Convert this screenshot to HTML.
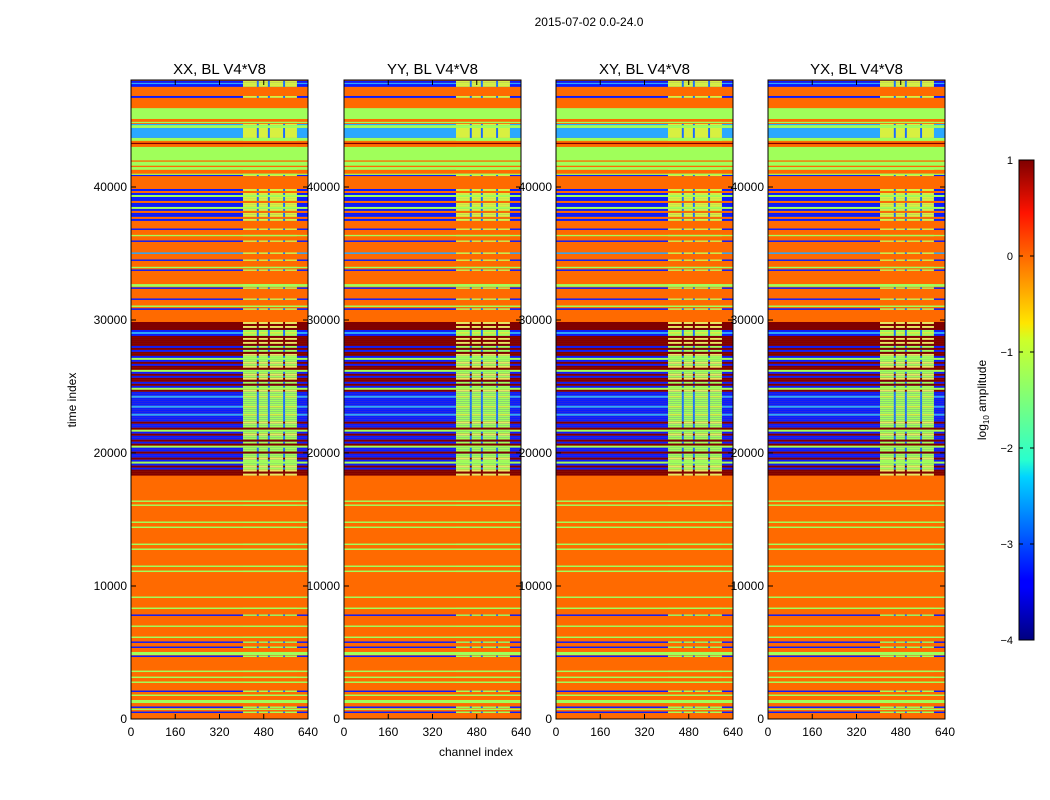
<!DOCTYPE html>
<html><head><meta charset="utf-8"><style>
body{margin:0;background:#fff;width:1050px;height:800px;overflow:hidden}
svg{display:block;font-family:"Liberation Sans",sans-serif}
</style></head><body>
<svg id="fig" width="1050" height="800" viewBox="0 0 1050 800">
<defs>
<linearGradient id="jet" x1="0" y1="1" x2="0" y2="0">
<stop offset="0" stop-color="#00007f"/><stop offset="0.11" stop-color="#0000ff"/><stop offset="0.125" stop-color="#0000ff"/>
<stop offset="0.34" stop-color="#00d4ff"/><stop offset="0.375" stop-color="#29ffce"/><stop offset="0.5" stop-color="#7dff7a"/>
<stop offset="0.625" stop-color="#ceff29"/><stop offset="0.66" stop-color="#ffe600"/><stop offset="0.8" stop-color="#ff6800"/>
<stop offset="0.89" stop-color="#ff1300"/><stop offset="1" stop-color="#7f0000"/>
</linearGradient>
</defs>
<text x="589" y="26" font-size="12" text-anchor="middle">2015-07-02 0.0-24.0</text>
<text transform="translate(76,400) rotate(-90)" font-size="12" text-anchor="middle">time index</text>
<text x="476" y="756" font-size="12" text-anchor="middle">channel index</text>
<g id="panels"></g>
<g>
<rect x="1019" y="160" width="15" height="480" fill="url(#jet)" stroke="#000" stroke-width="1"/>
</g>
<g id="cbticks"></g>
<text transform="translate(986,400) rotate(-90)" font-size="12" text-anchor="middle">log<tspan font-size="8" dy="3">10</tspan><tspan dy="-3"> amplitude</tspan></text>
</svg>
<script>
// ---- data ----
const panelTitles = ["XX, BL V4*V8","YY, BL V4*V8","XY, BL V4*V8","YX, BL V4*V8"];
const yTicks = [0,10000,20000,30000,40000];
const xTicks = [0,160,320,480,640];
const cbTicks = [1,0,-1,-2,-3,-4];
// bands: [timeStart, timeEnd, kind]
const bandStarts = [0,450,680,830,1200,1730,2030,2710,3080,3530,4660,4810,5340,5720,6090,6920,7750,8270,9100,11050,11430,12710,13080,14360,14740,16020,16320,
 30760,30980,31510,31900,32340,32500,33690,33900,34440,34970,35870,36300,36770,37450,37700,38000,38200,38500,38700,39250,40830,40910,41100,41300,41500,41700,41900,42100,43010,43320,43470,43690,44440,44670,44820,44970,45120,45950,46700,46850,47530,47750,47830];
const bandEnds = [18350,560,780,940,1430,1840,2140,2820,3190,3640,4770,5040,5450,5830,6200,7030,7860,8380,9210,11160,11540,12820,13190,14470,14850,16130,16430,
 30880,31090,31620,32000,32450,32700,33800,34000,34550,35080,35980,36400,36880,37550,37800,38100,38300,38600,38800,39350,40910,41000,41200,41400,41600,41800,42000,42300,43010,43320,43690,44440,44670,44740,44900,45040,45950,46020,46850,47530,47750,47830,47980];
const bandKinds = ["O","B","G","B","G","G","B","G","G","G","B","G","B","B","G","G","B","G","G","G","G","G","G","G","G","G","G",
 "B","G","B","O","B","G","B","G","B","C","B","G","B","O","G","O","G","O","G","O","B","G","O","G","O","G","O","G","G","D","G","C","G","C","G","O","G","O","B","O","B","C","B"];
const greenBlocks = [[41300,43010],[45120,45950]];
// noisy region rows from time 29850 downward, 150 units each
const noisyTop = 29850;
const noisyRows = "RRRRBCBRRRRRBRBRRBGBRBRRGBRBRRBRBGRBBCBBBBCBBBCBBBRBBRGBRBBRBRGBBRBBRBGBRBRRR";
const noisyUpper = "BOBGBBOBBGBOBBOB"; // rows from 39850 downward, 150 units each
const stripeChannels = [455,495,550];
// ---- rendering ----
const colors = {O:"#ff6a00",G:"#a0ff5a",B:"#0a1cff",C:"#2aa8ff",R:"#7f0000",D:"#7f0000",Y:"#ffe94a"};
const rightColors = {O:"#ff9a20",G:"#a0ff5a",B:"#a0ff5a",C:"#d8f040",R:"#7f0000",D:"#7f0000",Y:"#ffe94a"};
const panelX = [131,344,556,768], PW=177, PT=80, PB=719;
const tMax = 48050;
const NS="http://www.w3.org/2000/svg";
function ys(t){return PB - t/10000*133;}
function mk(tag,attrs,parent){const e=document.createElementNS(NS,tag);for(const k in attrs)e.setAttribute(k,attrs[k]);parent.appendChild(e);return e;}
const root=document.getElementById('panels');
let rowCount=0;
function drawRow(g,xs,t0,t1,kind){
  rowCount++;
  const y0=ys(t1), h=Math.max(ys(t0)-ys(t1),1.2);
  const r=mk('rect',{x:xs(0),y:y0,width:xs(640)-xs(0),height:h,fill:colors[kind]},g);
  
  
  let rc=rightColors[kind];
  if(kind==="B" && t1>30500) rc="#d8f040";
  if(kind==="R" && rowCount%2===0) rc="#e8e860";
  if(kind!=="O"&&kind!=="D"){
    const rr=mk('rect',{x:xs(405),y:y0,width:xs(600)-xs(405),height:h,fill:rc},g);
    
    
    if(kind==="B"||kind==="C"||kind==="R"){
      for(const c of stripeChannels){
        const s=mk('rect',{x:xs(c),y:y0,width:xs(c+7)-xs(c),height:h,fill:kind==="R"?"#7f0000":"#1a6bff"},g);
        
        
      }
    }
  }
}
panelTitles.forEach((title,p)=>{
  const x0=panelX[p];
  const xs=c=>x0+c/640*PW;
  const g=mk('g',{},root);
  
  
  const bg=mk('rect',{x:x0,y:ys(tMax),width:PW,height:ys(0)-ys(tMax),fill:colors.O},g);
  
  
  greenBlocks.forEach(b=>drawRow(g,xs,b[0],b[1],"G"));
  for(let i=1;i<bandStarts.length;i++){ drawRow(g,xs,bandStarts[i],bandEnds[i],bandKinds[i]); }
  for(let i=0;i<noisyRows.length;i++){ const t1=noisyTop-i*150; drawRow(g,xs,t1-150,t1,noisyRows[i]); }
  for(let i=0;i<noisyUpper.length;i++){ const t1=39850-i*150; drawRow(g,xs,t1-150,t1,noisyUpper[i]); }
  const fr=mk('rect',{x:x0,y:PT,width:PW,height:PB-PT,fill:"none",stroke:"#000","stroke-width":1},g);
  
  
  const tt=mk('text',{x:x0+PW/2,y:74,"font-size":15,"text-anchor":"middle"},g);
  tt.textContent=title;
  
  
  yTicks.forEach(v=>{
    const y=ys(v);
    mk('line',{x1:x0,x2:x0+5,y1:y,y2:y,stroke:"#000"},g);
    mk('line',{x1:x0+PW-5,x2:x0+PW,y1:y,y2:y,stroke:"#000"},g);
    const l=mk('text',{x:x0-4,y:y+4,"font-size":12,"text-anchor":"end"},g);
    l.textContent=v;
    
    
  });
  xTicks.forEach(v=>{
    const x=xs(v);
    mk('line',{x1:x,x2:x,y1:PB,y2:PB-5,stroke:"#000"},g);
    mk('line',{x1:x,x2:x,y1:PT,y2:PT+5,stroke:"#000"},g);
    const l=mk('text',{x:x,y:736,"font-size":12,"text-anchor":"middle"},g);
    l.textContent=v;
    
    
  });
});
const cb=document.getElementById('cbticks');
cbTicks.forEach(v=>{
  const y=160+(1-v)/5*480;
  mk('line',{x1:1019,x2:1023,y1:y,y2:y,stroke:"#000"},cb);
  mk('line',{x1:1030,x2:1034,y1:y,y2:y,stroke:"#000"},cb);
  const l=mk('text',{x:1013,y:y+4,"font-size":11,"text-anchor":"end"},cb);
  l.textContent=v<0?"\u2212"+(-v):String(v);
  
  
});
</script>
</body></html>
